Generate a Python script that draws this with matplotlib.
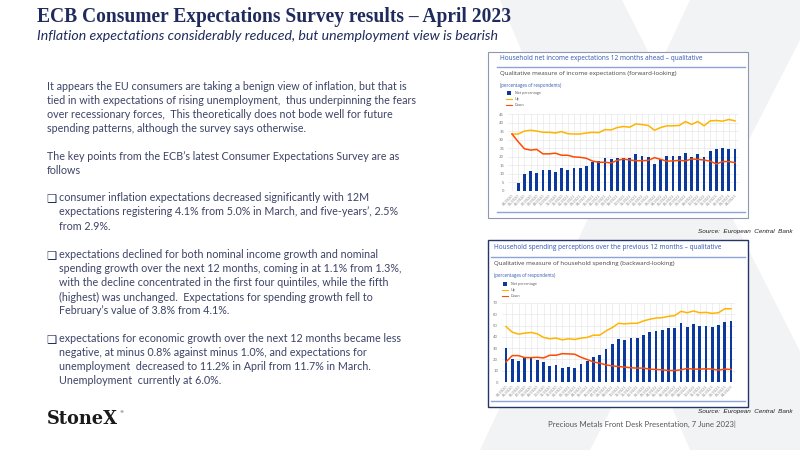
import matplotlib
matplotlib.use('Agg')
import matplotlib.pyplot as plt
from matplotlib.patches import Rectangle, Polygon

W, H = 800, 450

# ---------------- data ----------------
months = ["04/2020", "05/2020", "06/2020", "07/2020", "08/2020", "09/2020", "10/2020", "11/2020",
          "12/2020", "01/2021", "02/2021", "03/2021", "04/2021", "05/2021", "06/2021", "07/2021",
          "08/2021", "09/2021", "10/2021", "11/2021", "12/2021", "01/2022", "02/2022", "03/2022",
          "04/2022", "05/2022", "06/2022", "07/2022", "08/2022", "09/2022", "10/2022", "11/2022",
          "12/2022", "01/2023", "02/2023", "03/2023", "04/2023"]

income_net = [0, 4.7, 9.9, 11.4, 10.3, 12.0, 12.2, 11.2, 13.2, 12.2, 13.4, 13.4, 14.4, 16.8, 17.5,
              19.1, 18.9, 19.3, 19.1, 19.3, 21.5, 20.7, 19.9, 15.6, 18.7, 20.5, 20.5, 20.5, 22.5,
              19.9, 21.7, 19.9, 23.3, 24.5, 25.0, 24.7, 24.3]
income_up = [33.3, 33.3, 35.0, 35.5, 35.0, 34.3, 34.3, 33.9, 34.7, 33.5, 33.3, 33.3, 33.9, 34.3,
             34.1, 35.9, 35.7, 37.1, 37.7, 37.3, 39.2, 38.8, 38.3, 35.5, 37.1, 38.1, 38.1, 38.3,
             40.6, 38.9, 40.6, 38.1, 41.0, 41.2, 40.8, 41.8, 41.0]
income_down = [33.3, 28.8, 24.7, 23.9, 24.3, 21.7, 21.7, 22.1, 20.9, 20.9, 19.9, 19.7, 19.1, 17.5,
               16.8, 16.8, 16.4, 17.9, 18.7, 18.1, 17.7, 17.7, 17.9, 19.5, 18.5, 17.4, 17.6, 17.9,
               17.6, 18.7, 18.5, 18.1, 17.4, 15.8, 17.2, 17.2, 16.6]

spend_net = [30.1, 20.5, 18.7, 21.3, 21.3, 19.9, 17.9, 14.0, 15.2, 12.0, 13.2, 12.6, 16.1, 19.0,
             22.5, 24.0, 28.9, 33.6, 37.7, 37.1, 38.9, 38.6, 41.5, 43.9, 45.3, 46.2, 48.2, 47.7,
             52.0, 49.1, 51.2, 49.4, 49.7, 48.5, 50.6, 53.2, 53.8]
spend_up = [49.1, 44.2, 42.4, 43.3, 43.9, 42.7, 39.5, 38.3, 38.9, 37.4, 38.3, 37.7, 38.9, 39.5,
            41.5, 41.5, 45.3, 48.2, 52.0, 51.5, 52.0, 52.0, 54.1, 55.6, 56.7, 57.0, 58.2, 58.8,
            62.6, 61.4, 62.9, 61.4, 61.7, 60.8, 61.4, 64.9, 64.9]
spend_down = [17.8, 23.4, 23.4, 21.6, 21.6, 21.9, 21.3, 23.7, 23.7, 25.1, 24.9, 24.6, 21.9, 19.9,
              17.8, 16.7, 15.2, 14.3, 13.7, 13.2, 12.6, 12.3, 12.3, 11.4, 11.1, 10.8, 10.2, 10.2,
              10.8, 12.0, 11.4, 11.4, 11.7, 11.4, 10.5, 11.4, 11.1]

legend_labels = ["Net percentage", "Up", "Down"]

title = "ECB Consumer Expectations Survey results \u2013 April 2023"
subtitle = "Inflation expectations considerably reduced, but unemployment view is bearish"

para1 = ["It appears the EU consumers are taking a benign view of inflation, but that is",
         "tied in with expectations of rising unemployment,  thus underpinning the fears",
         "over recessionary forces,  This theoretically does not bode well for future",
         "spending patterns, although the survey says otherwise."]
para2 = ["The key points from the ECB\u2019s latest Consumer Expectations Survey are as",
         "follows"]
bullet1 = ["consumer inflation expectations decreased significantly with 12M",
           "expectations registering 4.1% from 5.0% in March, and five-years\u2019, 2.5%",
           "from 2.9%."]
bullet2 = ["expectations declined for both nominal income growth and nominal",
           "spending growth over the next 12 months, coming in at 1.1% from 1.3%,",
           "with the decline concentrated in the first four quintiles, while the fifth",
           "(highest) was unchanged.  Expectations for spending growth fell to",
           "February\u2019s value of 3.8% from 4.1%."]
bullet3 = ["expectations for economic growth over the next 12 months became less",
           "negative, at minus 0.8% against minus 1.0%, and expectations for",
           "unemployment  decreased to 11.2% in April from 11.7% in March.",
           "Unemployment  currently at 6.0%."]

chart1_title = "Household net income expectations 12 months ahead \u2013 qualitative"
chart1_sub = "Qualitative measure of income expectations (forward-looking)"
chart2_title = "Household spending perceptions over the previous 12 months \u2013 qualitative"
chart2_sub = "Qualitative measure of household spending (backward-looking)"
units_label = "(percentages of respondents)"
source = "Source:  European  Central  Bank"
footer = "Precious Metals Front Desk Presentation, 7 June 2023|"

# ---------------- styles ----------------
NAVY = "#1f2b5c"
TEXT = "#3d4466"
ECB_BLUE = "#0b3a9c"
UP_C = "#ffb400"
DOWN_C = "#ff4b00"
CH_TITLE = "#2f56b0"
BG_X = "#f2f3f5"

fig = plt.figure(figsize=(8, 4.5), dpi=100)
fig.patch.set_facecolor("white")
renderer = fig.canvas.get_renderer()

bg = fig.add_axes([0, 0, 1, 1])
bg.set_xlim(0, W)
bg.set_ylim(H, 0)
bg.axis("off")

# watermark X
bg.add_patch(Polygon([(500, 0), (622, 0), (850, 450), (690, 450)], closed=True,
                     facecolor=BG_X, edgecolor="none", zorder=0))
bg.add_patch(Polygon([(690, 0), (800, 0), (800, 40), (590, 450), (480, 450)], closed=True,
                     facecolor=BG_X, edgecolor="none", zorder=0))


def fx(x):
    return x / W


def fy(y):
    return 1 - y / H


def fit_size(s, target, **kw):
    t = fig.text(0, 0, s, fontsize=10, **kw)
    w = t.get_window_extent(renderer).width
    t.remove()
    return 10 * target / w


# ---------------- header ----------------
ts = fit_size(title, 476, family="Liberation Serif", weight="bold")
fig.text(fx(37), fy(17), title, fontsize=ts, family="Liberation Serif", weight="bold",
         color=NAVY, va="center", ha="left")
ss = fit_size(subtitle, 463, family="Lato", style="italic")
fig.text(fx(37), fy(36), subtitle, fontsize=ss, family="Lato", style="italic",
         color=NAVY, va="center", ha="left")

# ---------------- body text ----------------
bs = fit_size(para1[0], 361, family="Lato")


def lines(x, y0, arr, step=14):
    for i, s in enumerate(arr):
        fig.text(fx(x), fy(y0 + i * step), s, fontsize=bs, family="Lato", color=TEXT,
                 va="center", ha="left")


lines(47, 87, para1)
lines(47, 157, para2)
for y0, arr in [(198, bullet1), (255, bullet2), (339, bullet3)]:
    fig.text(fx(46), fy(y0), "\u2751", fontsize=bs * 1.05, family="DejaVu Sans", color=NAVY,
             va="center", ha="left")
    lines(59, y0, arr)

# logo
ls = fit_size("StoneX", 71, family="DejaVu Serif", weight="bold")
fig.text(fx(47), fy(419), "StoneX", fontsize=ls, family="DejaVu Serif", weight="bold",
         color="#1a1a1a", va="center", ha="left")
fig.text(fx(119), fy(412), "\u00ae", fontsize=3, family="DejaVu Sans", color="#1a1a1a",
         va="center", ha="left")


# ---------------- charts ----------------
def chart(box, border, bw, tx, ty, ttl, ttl_w, sub, sub_w, suby, uy, legx, legy, plot, ymax,
          ystep, net, up, down, botline):
    x0, y0, x1, y1 = box
    bg.add_patch(Rectangle((x0, y0), x1 - x0, y1 - y0, facecolor="white", edgecolor=border,
                           linewidth=bw, zorder=2))
    s1 = fit_size(ttl, ttl_w, family="Open Sans")
    fig.text(fx(tx), fy(ty), ttl, fontsize=s1, family="Open Sans", color=CH_TITLE,
             va="center", ha="left")
    bg.plot([tx - 3, x1 - 3], [ty + 9, ty + 9], color="#8ea3d8", lw=1.0, zorder=3)
    s2 = fit_size(sub, sub_w, family="Open Sans")
    fig.text(fx(tx), fy(suby), sub, fontsize=s2, family="Open Sans", color="#444444",
             va="center", ha="left")
    s3 = fit_size(units_label, 62, family="Open Sans")
    fig.text(fx(tx), fy(uy), units_label, fontsize=s3, family="Open Sans", color=CH_TITLE,
             va="center", ha="left")
    # legend
    bg.add_patch(Rectangle((legx - 2, legy - 2), 4, 4, facecolor=ECB_BLUE, edgecolor="none",
                           zorder=3))
    bg.plot([legx - 3, legx + 3], [legy + 5.8, legy + 5.8], color=UP_C, lw=0.8, zorder=3)
    bg.plot([legx - 3, legx + 3], [legy + 11.6, legy + 11.6], color=DOWN_C, lw=0.8, zorder=3)
    for i, lab in enumerate(legend_labels):
        fig.text(fx(legx + 6), fy(legy + i * 5.8), lab, fontsize=2.6, family="Open Sans",
                 color="#555555", va="center", ha="left")
    # plot area
    first, last, ytop, ybot = plot
    sp = (last - first) / (len(net) - 1)
    left = first - 0.6 * sp
    right = last + 0.6 * sp
    ax = fig.add_axes([fx(left), fy(ybot), (right - left) / W, (ybot - ytop) / H])
    ax.set_zorder(5)
    ax.patch.set_alpha(0)
    xs = list(range(len(net)))
    ax.bar(xs, net, width=0.45, color=ECB_BLUE, zorder=3)
    ax.plot(xs, up, color=UP_C, lw=1.1, zorder=4)
    ax.plot(xs, down, color=DOWN_C, lw=1.1, zorder=4)
    ax.set_xlim(-0.6, len(net) - 0.4)
    ax.set_ylim(0, ymax)
    ax.set_yticks(range(0, ymax + 1, ystep))
    ax.set_xticks(xs)
    ax.set_xticklabels(months, rotation=45, ha="right", rotation_mode="anchor",
                       fontsize=2.5, color="#888888")
    ax.tick_params(axis="y", labelsize=2.8, labelcolor="#777777", length=0, pad=3)
    ax.tick_params(axis="x", length=0, pad=2)
    ax.grid(True, color="#e3e3e3", lw=0.4, zorder=0)
    for sp_ in ax.spines.values():
        sp_.set_visible(False)
    bg.plot([tx - 3, x1 - 3], [botline, botline], color="#8ea3d8", lw=1.0, zorder=3)
    return ax


chart((488, 52, 748, 218), "#8f97b3", 0.8, 500, 58, chart1_title, 203, chart1_sub, 176, 74, 85,
      509, 93, (512, 735, 114, 191), 45, 5, income_net, income_up, income_down, 212)
chart((488, 240, 748, 407), "#24356a", 1.0, 494, 247.5, chart2_title, 229, chart2_sub, 180, 264,
      275, 505, 284, (506, 731, 303, 382), 70, 10, spend_net, spend_up, spend_down, 401)

# sources and footer
for ys in (231, 412):
    ssz = fit_size(source, 95, family="Liberation Sans", style="italic")
    fig.text(fx(793), fy(ys), source, fontsize=ssz, family="Liberation Sans", style="italic",
             color="#222222", va="center", ha="right")
fig.text(fx(548), fy(424), footer, fontsize=5.6, family="Lato", color="#555555",
         va="center", ha="left")

fig.savefig("out.png", dpi=100, facecolor="white")
